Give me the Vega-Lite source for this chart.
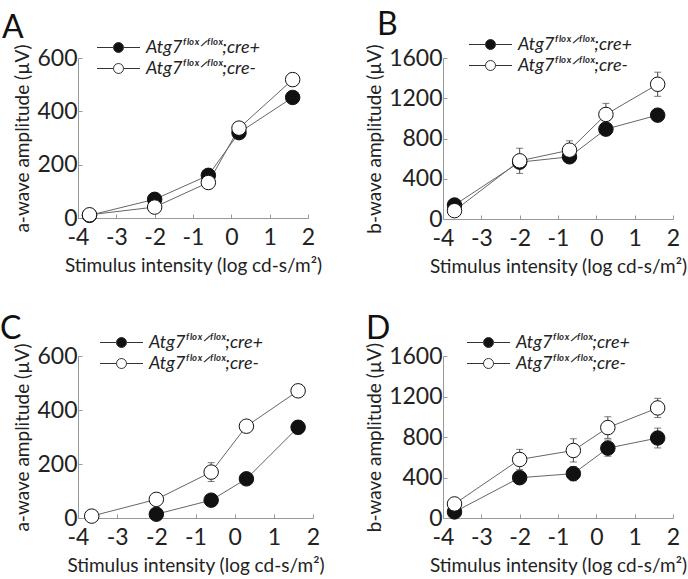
{
  "$schema": "https://vega.github.io/schema/vega-lite/v6.json",
  "padding": {"left": 0, "top": 9, "right": 5, "bottom": 5},
  "datasets": {
    "erg": [
      {"panel": "A", "genotype": "cre+", "x": -3.7, "amp": 10, "sd": 8},
      {"panel": "A", "genotype": "cre+", "x": -2.0, "amp": 70, "sd": 10},
      {"panel": "A", "genotype": "cre+", "x": -0.6, "amp": 160, "sd": 12},
      {"panel": "A", "genotype": "cre+", "x": 0.2, "amp": 320, "sd": 12},
      {"panel": "A", "genotype": "cre+", "x": 1.6, "amp": 452, "sd": 15},
      {"panel": "A", "genotype": "cre-", "x": -3.7, "amp": 12, "sd": 8},
      {"panel": "A", "genotype": "cre-", "x": -2.0, "amp": 41, "sd": 10},
      {"panel": "A", "genotype": "cre-", "x": -0.6, "amp": 133, "sd": 15},
      {"panel": "A", "genotype": "cre-", "x": 0.2, "amp": 337, "sd": 15},
      {"panel": "A", "genotype": "cre-", "x": 1.6, "amp": 519, "sd": 20},
      {"panel": "B", "genotype": "cre+", "x": -3.7, "amp": 139, "sd": 30},
      {"panel": "B", "genotype": "cre+", "x": -2.0, "amp": 565, "sd": 60},
      {"panel": "B", "genotype": "cre+", "x": -0.7, "amp": 618, "sd": 50},
      {"panel": "B", "genotype": "cre+", "x": 0.25, "amp": 893, "sd": 60},
      {"panel": "B", "genotype": "cre+", "x": 1.6, "amp": 1032, "sd": 60},
      {"panel": "B", "genotype": "cre-", "x": -3.7, "amp": 83, "sd": 40},
      {"panel": "B", "genotype": "cre-", "x": -2.0, "amp": 578, "sd": 125},
      {"panel": "B", "genotype": "cre-", "x": -0.7, "amp": 684, "sd": 93},
      {"panel": "B", "genotype": "cre-", "x": 0.25, "amp": 1039, "sd": 110},
      {"panel": "B", "genotype": "cre-", "x": 1.6, "amp": 1339, "sd": 120},
      {"panel": "C", "genotype": "cre+", "x": -2.0, "amp": 14, "sd": 10},
      {"panel": "C", "genotype": "cre+", "x": -0.6, "amp": 66, "sd": 15},
      {"panel": "C", "genotype": "cre+", "x": 0.3, "amp": 145, "sd": 20},
      {"panel": "C", "genotype": "cre+", "x": 1.62, "amp": 336, "sd": 25},
      {"panel": "C", "genotype": "cre-", "x": -3.65, "amp": 7, "sd": 5},
      {"panel": "C", "genotype": "cre-", "x": -2.0, "amp": 69, "sd": 15},
      {"panel": "C", "genotype": "cre-", "x": -0.6, "amp": 170, "sd": 35},
      {"panel": "C", "genotype": "cre-", "x": 0.3, "amp": 340, "sd": 20},
      {"panel": "C", "genotype": "cre-", "x": 1.62, "amp": 471, "sd": 20},
      {"panel": "D", "genotype": "cre+", "x": -3.7, "amp": 60, "sd": 30},
      {"panel": "D", "genotype": "cre+", "x": -2.0, "amp": 398, "sd": 60},
      {"panel": "D", "genotype": "cre+", "x": -0.6, "amp": 438, "sd": 70},
      {"panel": "D", "genotype": "cre+", "x": 0.3, "amp": 690, "sd": 80},
      {"panel": "D", "genotype": "cre+", "x": 1.6, "amp": 790, "sd": 98},
      {"panel": "D", "genotype": "cre-", "x": -3.7, "amp": 139, "sd": 40},
      {"panel": "D", "genotype": "cre-", "x": -2.0, "amp": 578, "sd": 100},
      {"panel": "D", "genotype": "cre-", "x": -0.6, "amp": 667, "sd": 115},
      {"panel": "D", "genotype": "cre-", "x": 0.3, "amp": 893, "sd": 107},
      {"panel": "D", "genotype": "cre-", "x": 1.6, "amp": 1087, "sd": 95}
    ]
  },
  "columns": 2,
  "align": "each",
  "spacing": {"column": 40, "row": 37},
  "resolve": {
    "scale": {"x": "independent", "y": "independent", "fill": "independent"},
    "legend": {"fill": "independent"},
    "axis": {"x": "independent", "y": "independent"}
  },
  "concat": [
    {
      "data": {"name": "erg"},
      "transform": [{"filter": {"field": "panel", "equal": "A"}}],
      "title": {"text": "A", "dx": -76},
      "width": 230,
      "height": 160,
      "encoding": {
        "x": {"field": "x", "type": "quantitative", "scale": {"domain": [-4, 2], "nice": false}, "axis": {"values": [-4, -3, -2, -1, 0, 1, 2], "title": "Stimulus intensity (log cd-s/m²)"}},
        "y": {"field": "amp", "type": "quantitative", "scale": {"domain": [0, 600], "nice": false}, "axis": {"values": [0, 200, 400, 600], "title": "a-wave amplitude (µV)"}}
      },
      "layer": [
        {"mark": {"type": "errorbar", "color": "#444", "thickness": 1, "ticks": {"size": 7, "color": "#444", "thickness": 1}}, "encoding": {"yError": {"field": "sd"}}},
        {"mark": {"type": "line", "color": "#666", "strokeWidth": 1}, "encoding": {"detail": {"field": "genotype"}}},
        {"mark": {"type": "point", "filled": true, "size": 210, "stroke": "#111", "strokeWidth": 1, "opacity": 1},
         "encoding": {"fill": {"field": "genotype", "type": "nominal", "scale": {"domain": ["cre+", "cre-"], "range": ["#111111", "#ffffff"]},
           "legend": {"orient": "none", "legendX": 30, "legendY": -21, "labelExpr": "'Atg7ᶠˡᵒˣᐟᶠˡᵒˣ;' + datum.label"}}}},
        {"data": {"values": [{"panel": "A", "note": "Fed"}]}, "mark": {"type": "text", "align": "left", "baseline": "middle", "fontSize": 21, "color": "#222"},
         "encoding": {"x": {"datum": -3.47}, "y": {"datum": 350}, "text": {"field": "note"}}}
      ]
    },
    {
      "data": {"name": "erg"},
      "transform": [{"filter": {"field": "panel", "equal": "B"}}],
      "title": {"text": "B", "dx": -66},
      "width": 230,
      "height": 161,
      "encoding": {
        "x": {"field": "x", "type": "quantitative", "scale": {"domain": [-4, 2], "nice": false}, "axis": {"values": [-4, -3, -2, -1, 0, 1, 2], "title": "Stimulus intensity (log cd-s/m²)"}},
        "y": {"field": "amp", "type": "quantitative", "scale": {"domain": [0, 1600], "nice": false}, "axis": {"values": [0, 400, 800, 1200, 1600], "title": "b-wave amplitude (µV)"}}
      },
      "layer": [
        {"mark": {"type": "errorbar", "color": "#444", "thickness": 1, "ticks": {"size": 7, "color": "#444", "thickness": 1}}, "encoding": {"yError": {"field": "sd"}}},
        {"mark": {"type": "line", "color": "#666", "strokeWidth": 1}, "encoding": {"detail": {"field": "genotype"}}},
        {"mark": {"type": "point", "filled": true, "size": 210, "stroke": "#111", "strokeWidth": 1, "opacity": 1},
         "encoding": {"fill": {"field": "genotype", "type": "nominal", "scale": {"domain": ["cre+", "cre-"], "range": ["#111111", "#ffffff"]},
           "legend": {"orient": "none", "legendX": 37, "legendY": -24, "labelExpr": "'Atg7ᶠˡᵒˣᐟᶠˡᵒˣ;' + datum.label"}}}},
        {"data": {"values": [{"panel": "B", "note": "Fed"}]}, "mark": {"type": "text", "align": "left", "baseline": "middle", "fontSize": 21, "color": "#222"},
         "encoding": {"x": {"datum": -3.55}, "y": {"datum": 942}, "text": {"field": "note"}}}
      ]
    },
    {
      "data": {"name": "erg"},
      "transform": [{"filter": {"field": "panel", "equal": "C"}}],
      "title": {"text": "C", "dx": -78, "dy": 6},
      "width": 235,
      "height": 162,
      "encoding": {
        "x": {"field": "x", "type": "quantitative", "scale": {"domain": [-4, 2], "nice": false}, "axis": {"values": [-4, -3, -2, -1, 0, 1, 2], "title": "Stimulus intensity (log cd-s/m²)"}},
        "y": {"field": "amp", "type": "quantitative", "scale": {"domain": [0, 600], "nice": false}, "axis": {"values": [0, 200, 400, 600], "title": "a-wave amplitude (µV)"}}
      },
      "layer": [
        {"mark": {"type": "errorbar", "color": "#444", "thickness": 1, "ticks": {"size": 7, "color": "#444", "thickness": 1}}, "encoding": {"yError": {"field": "sd"}}},
        {"mark": {"type": "line", "color": "#666", "strokeWidth": 1}, "encoding": {"detail": {"field": "genotype"}}},
        {"mark": {"type": "point", "filled": true, "size": 210, "stroke": "#111", "strokeWidth": 1, "opacity": 1},
         "encoding": {"fill": {"field": "genotype", "type": "nominal", "scale": {"domain": ["cre+", "cre-"], "range": ["#111111", "#ffffff"]},
           "legend": {"orient": "none", "legendX": 33, "legendY": -24, "labelExpr": "'Atg7ᶠˡᵒˣᐟᶠˡᵒˣ;' + datum.label"}}}},
        {"data": {"values": [{"panel": "C", "note": "Fasted"}]}, "mark": {"type": "text", "align": "left", "baseline": "middle", "fontSize": 21, "color": "#222"},
         "encoding": {"x": {"datum": -3.36}, "y": {"datum": 346}, "text": {"field": "note"}}}
      ]
    },
    {
      "data": {"name": "erg"},
      "transform": [{"filter": {"field": "panel", "equal": "D"}}],
      "title": {"text": "D", "dx": -77, "dy": 6},
      "width": 230,
      "height": 162,
      "encoding": {
        "x": {"field": "x", "type": "quantitative", "scale": {"domain": [-4, 2], "nice": false}, "axis": {"values": [-4, -3, -2, -1, 0, 1, 2], "title": "Stimulus intensity (log cd-s/m²)"}},
        "y": {"field": "amp", "type": "quantitative", "scale": {"domain": [0, 1600], "nice": false}, "axis": {"values": [0, 400, 800, 1200, 1600], "title": "b-wave amplitude (µV)"}}
      },
      "layer": [
        {"mark": {"type": "errorbar", "color": "#444", "thickness": 1, "ticks": {"size": 7, "color": "#444", "thickness": 1}}, "encoding": {"yError": {"field": "sd"}}},
        {"mark": {"type": "line", "color": "#666", "strokeWidth": 1}, "encoding": {"detail": {"field": "genotype"}}},
        {"mark": {"type": "point", "filled": true, "size": 210, "stroke": "#111", "strokeWidth": 1, "opacity": 1},
         "encoding": {"fill": {"field": "genotype", "type": "nominal", "scale": {"domain": ["cre+", "cre-"], "range": ["#111111", "#ffffff"]},
           "legend": {"orient": "none", "legendX": 35, "legendY": -24, "labelExpr": "'Atg7ᶠˡᵒˣᐟᶠˡᵒˣ;' + datum.label"}}}},
        {"data": {"values": [{"panel": "D", "note": "Fasted"}]}, "mark": {"type": "text", "align": "left", "baseline": "middle", "fontSize": 21, "color": "#222"},
         "encoding": {"x": {"datum": -3.65}, "y": {"datum": 946}, "text": {"field": "note"}}}
      ]
    }
  ],
  "config": {
    "font": "Lato",
    "background": "white",
    "view": {"stroke": null},
    "axis": {"grid": false, "domainColor": "#999", "tickColor": "#999", "tickSize": -4, "labelFontSize": 23, "labelColor": "#222", "titleFontSize": 19, "titleFontWeight": "normal", "titleColor": "#222", "labelFlush": false, "labelOverlap": false, "labelExpr": "datum.value + ''"},
    "axisX": {"titlePadding": 7, "labelPadding": 12},
    "axisY": {"titlePadding": 4, "labelPadding": 5},
    "legend": {"title": null, "symbolType": "M -2.15 0 L -0.5 0 M 0.5 0 L 2.15 0 M 0.5 0 A 0.5 0.5 0 1 1 -0.5 0 A 0.5 0.5 0 1 1 0.5 0 Z", "symbolSize": 400, "symbolStrokeColor": "#333", "symbolStrokeWidth": 1, "labelFontSize": 18, "labelFontStyle": "italic", "labelColor": "#222", "labelOffset": 17, "rowPadding": 1},
    "title": {"fontSize": 32, "fontWeight": "normal", "anchor": "start", "frame": "group", "color": "#111", "offset": -8}
  }
}
